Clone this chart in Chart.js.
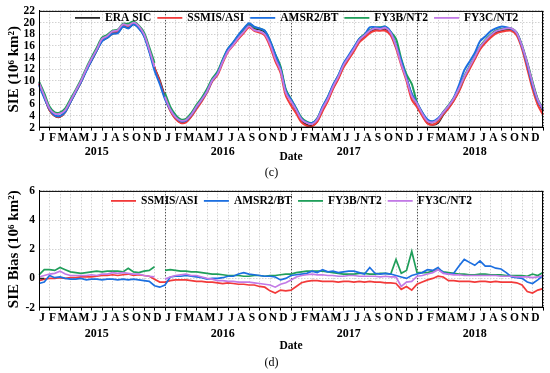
<!DOCTYPE html>
<html>
<head>
<meta charset="utf-8">
<script src="https://cdn.jsdelivr.net/npm/chart.js@4.4.1/dist/chart.umd.min.js"></script>
<style>
  body { margin: 0; background: #fff; }
  canvas { display: block; }
</style>
</head>
<body>
<canvas id="sie" width="550" height="180"></canvas>
<canvas id="bias" width="550" height="193"></canvas>
<script>
// semi-monthly samples (1st and 16th of each month), 2015-01-01 .. 2018-12-31
const years = ['2015', '2016', '2017', '2018'];
const monthLetters = ['J', 'F', 'M', 'A', 'M', 'J', 'J', 'A', 'S', 'O', 'N', 'D'];

const eraSie = [
  9.6, 7.3, 5.0, 4.0, 3.85, 4.7, 6.4, 8.1, 9.8, 11.8, 13.5, 15.2, 16.9, 17.4, 18.1, 18.3, 19.3, 19.1, 19.7, 19.1, 17.8, 15.2, 12.3, 10.1,
  7.3, 5.0, 3.6, 2.9, 3.0, 4.0, 5.4, 6.7, 8.2, 10.1, 11.3, 13.4, 15.3, 16.4, 17.6, 18.6, 19.6, 19.0, 18.8, 18.4, 16.7, 14.4, 12.2, 8.3,
  6.6, 4.9, 3.2, 2.5, 2.3, 3.1, 5.0, 6.7, 8.8, 10.5, 12.5, 13.9, 15.3, 16.8, 17.6, 18.4, 18.8, 18.8, 18.9, 18.1, 15.9, 13.4, 10.5, 7.6,
  5.9, 4.2, 2.8, 2.5, 2.8, 4.2, 5.4, 6.7, 8.4, 10.5, 12.2, 13.9, 15.6, 16.7, 17.6, 18.3, 18.6, 18.8, 18.8, 18.1, 15.9, 13.0, 9.6, 6.7, 4.9
];
const ssmisSie = [
  9.5, 7.3, 5.0, 4.0, 3.9, 4.7, 6.5, 8.2, 9.9, 11.9, 13.6, 15.4, 17.1, 17.6, 18.4, 18.5, 19.6, 19.4, 19.9, 19.4, 18.0, 15.4, 12.3, 9.9,
  7.1, 4.9, 3.5, 2.8, 2.9, 3.9, 5.2, 6.5, 8.0, 9.9, 11.0, 13.1, 15.0, 16.1, 17.2, 18.2, 19.2, 18.6, 18.3, 17.8, 15.9, 13.4, 11.4, 7.5,
  5.8, 4.4, 2.9, 2.3, 2.2, 3.0, 4.8, 6.5, 8.6, 10.3, 12.3, 13.7, 15.1, 16.6, 17.4, 18.2, 18.6, 18.6, 18.6, 17.8, 15.6, 12.7, 10.0, 6.8,
  5.5, 4.0, 2.7, 2.5, 3.0, 4.3, 5.3, 6.6, 8.2, 10.3, 12.0, 13.7, 15.4, 16.5, 17.4, 18.1, 18.4, 18.6, 18.6, 17.8, 15.5, 12.1, 8.6, 5.9, 4.2
];
const amsrSie = [
  9.3, 7.1, 5.2, 4.1, 4.0, 4.7, 6.4, 8.1, 9.8, 11.7, 13.5, 15.2, 16.8, 17.4, 18.1, 18.2, 19.3, 19.0, 19.7, 19.0, 17.7, 15.0, 11.8, 9.5,
  6.9, 5.1, 3.8, 3.1, 3.2, 4.2, 5.5, 6.8, 8.2, 10.1, 11.3, 13.5, 15.5, 16.6, 17.9, 19.0, 19.9, 19.3, 19.0, 18.6, 16.9, 14.5, 12.1, 8.3,
  6.8, 5.2, 3.5, 2.9, 2.8, 3.5, 5.6, 7.2, 9.3, 10.9, 13.0, 14.4, 15.8, 17.2, 17.9, 19.2, 19.2, 19.1, 19.3, 18.4, 16.1, 13.5, 10.5, 7.8,
  6.2, 4.6, 3.4, 3.1, 3.6, 4.6, 5.7, 7.1, 9.3, 11.8, 13.3, 14.8, 16.8, 17.6, 18.5, 19.0, 19.3, 19.2, 18.9, 18.2, 15.9, 12.8, 9.3, 6.6, 5.1
];
const fy3bSie = [
  9.9, 7.9, 5.6, 4.6, 4.6, 5.3, 6.9, 8.5, 10.2, 12.2, 14.0, 15.7, 17.4, 17.9, 18.6, 18.8, 19.8, 19.8, 20.2, 19.5, 18.3, 15.8, 13.1, null,
  7.9, 5.6, 4.2, 3.4, 3.5, 4.5, 5.9, 7.1, 8.6, 10.4, 11.6, 13.7, 15.5, 16.6, 17.8, 18.8, 19.8, 19.2, 19.0, 18.6, 16.9, 14.6, 12.5, 8.6,
  6.9, 5.3, 3.7, 3.0, 2.8, 3.6, 5.5, 7.2, 9.2, 10.9, 12.8, 14.2, 15.6, 17.2, 18.0, 18.7, 19.1, 19.2, 19.3, 18.4, 17.2, 13.8, 11.1, 9.5,
  6.3, 4.6, 3.2, 3.0, 3.4, 4.7, 5.8, 7.1, 8.7, 10.8, 12.5, 14.2, 15.9, 17.0, 17.9, 18.6, 18.9, 19.0, 19.0, 18.3, 16.1, 13.2, 9.9, 6.9, 5.3
];
const fy3cSie = [
  9.7, 7.5, 5.3, 4.4, 4.4, 5.0, 6.6, 8.3, 10.0, 12.0, 13.8, 15.4, 17.2, 17.7, 18.5, 18.7, 19.7, 19.5, 20.0, 19.4, 18.0, 15.4, 12.4, null,
  7.3, 5.1, 3.8, 3.2, 3.3, 4.2, 5.6, 6.8, 8.2, 10.1, 11.2, 13.3, 15.1, 16.2, 17.4, 18.4, 19.4, 18.7, 18.5, 18.0, 16.3, 13.8, 11.8, 8.0,
  6.5, 5.0, 3.4, 2.8, 2.6, 3.4, 5.3, 6.9, 9.0, 10.7, 12.7, 14.1, 15.5, 17.0, 17.8, 18.6, 19.0, 18.9, 19.1, 18.2, 16.0, 12.9, 10.3, 7.4,
  6.1, 4.4, 3.1, 2.9, 3.4, 4.6, 5.7, 7.0, 8.7, 10.7, 12.4, 14.1, 15.8, 16.9, 17.8, 18.5, 18.8, 19.0, 19.0, 18.2, 16.0, 13.1, 9.7, 6.8, 5.1
];

// bias relative to ERA SIC
const eraBias = [0, 0];
const ssmisBias = [
  -0.15, -0.05, 0.0, 0.0, 0.05, 0.0, 0.05, 0.05, 0.1, 0.1, 0.1, 0.15, 0.2, 0.2, 0.25, 0.2, 0.25, 0.3, 0.2, 0.25, 0.2, 0.15, -0.05, -0.25,
  -0.25, -0.15, -0.1, -0.1, -0.1, -0.15, -0.2, -0.2, -0.25, -0.25, -0.3, -0.35, -0.3, -0.35, -0.4, -0.4, -0.45, -0.45, -0.55, -0.6, -0.85, -1.0, -0.8, -0.85,
  -0.8, -0.55, -0.3, -0.2, -0.15, -0.15, -0.2, -0.2, -0.2, -0.25, -0.2, -0.2, -0.25, -0.2, -0.25, -0.2, -0.25, -0.25, -0.3, -0.3, -0.35, -0.75, -0.55, -0.8,
  -0.4, -0.25, -0.1, 0.0, 0.15, 0.1, -0.15, -0.15, -0.2, -0.2, -0.2, -0.25, -0.2, -0.2, -0.25, -0.2, -0.25, -0.25, -0.25, -0.3, -0.45, -0.9, -1.0, -0.8, -0.7
];
const amsrBias = [
  -0.35, -0.25, 0.2, 0.05, 0.1, 0.0, -0.05, -0.05, 0.0, -0.1, -0.05, -0.05, -0.1, -0.05, -0.05, -0.1, -0.05, -0.1, -0.05, -0.1, -0.15, -0.2, -0.5, -0.6,
  -0.45, 0.1, 0.15, 0.15, 0.2, 0.15, 0.1, 0.05, -0.05, 0.0, 0.0, 0.05, 0.15, 0.15, 0.3, 0.4, 0.3, 0.25, 0.2, 0.15, 0.15, 0.1, -0.1, 0.0,
  0.2, 0.25, 0.3, 0.35, 0.5, 0.4, 0.6, 0.45, 0.5, 0.4, 0.45, 0.5, 0.5, 0.4, 0.3, 0.75, 0.35, 0.3, 0.35, 0.3, 0.2, 0.1, 0.0, 0.2,
  0.3, 0.4, 0.6, 0.55, 0.75, 0.4, 0.3, 0.35, 0.85, 1.3, 1.1, 0.9, 1.2, 0.85, 0.85, 0.7, 0.65, 0.4, 0.1, 0.05, 0.0, -0.25, -0.35, -0.1, 0.2
];
const fy3bBias = [
  0.25, 0.6, 0.6, 0.55, 0.75, 0.6, 0.45, 0.4, 0.35, 0.4, 0.45, 0.5, 0.45, 0.5, 0.5, 0.5, 0.45, 0.7, 0.45, 0.4, 0.5, 0.55, 0.8, null,
  0.55, 0.6, 0.55, 0.5, 0.5, 0.45, 0.45, 0.4, 0.35, 0.3, 0.3, 0.25, 0.2, 0.2, 0.2, 0.15, 0.15, 0.2, 0.2, 0.15, 0.2, 0.2, 0.25, 0.3,
  0.3, 0.4, 0.45, 0.5, 0.5, 0.5, 0.5, 0.45, 0.4, 0.35, 0.3, 0.3, 0.3, 0.35, 0.35, 0.3, 0.3, 0.35, 0.35, 0.3, 1.3, 0.35, 0.55, 1.85,
  0.4, 0.4, 0.4, 0.5, 0.6, 0.45, 0.4, 0.35, 0.3, 0.3, 0.25, 0.25, 0.3, 0.3, 0.25, 0.25, 0.25, 0.2, 0.2, 0.2, 0.2, 0.15, 0.3, 0.2, 0.4
];
const fy3cBias = [
  0.1, 0.2, 0.3, 0.35, 0.5, 0.3, 0.2, 0.2, 0.2, 0.2, 0.25, 0.2, 0.3, 0.3, 0.4, 0.35, 0.4, 0.35, 0.3, 0.3, 0.2, 0.15, 0.1, null,
  -0.05, 0.1, 0.2, 0.25, 0.3, 0.2, 0.2, 0.1, 0.0, -0.05, -0.15, -0.15, -0.2, -0.2, -0.25, -0.25, -0.25, -0.3, -0.35, -0.4, -0.45, -0.6, -0.4, -0.3,
  -0.1, 0.1, 0.2, 0.25, 0.3, 0.25, 0.25, 0.2, 0.2, 0.15, 0.15, 0.2, 0.2, 0.15, 0.15, 0.15, 0.15, 0.1, 0.15, 0.1, 0.1, -0.55, -0.25, -0.2,
  0.15, 0.2, 0.3, 0.4, 0.6, 0.35, 0.3, 0.25, 0.25, 0.2, 0.2, 0.2, 0.2, 0.2, 0.2, 0.2, 0.15, 0.15, 0.15, 0.1, 0.1, 0.1, 0.05, 0.1, 0.2
];

const dateLabels = [];
years.forEach(() => monthLetters.forEach(m => dateLabels.push(m, '')));
dateLabels.push('');
const lastIdx = dateLabels.length - 1;

const FONT = '"Liberation Serif", "Times New Roman", serif';
const COLORS = {
  era: '#262626',
  ssmis: '#f23a3a',
  amsr: '#1c6fe0',
  fy3b: '#1f9e5a',
  fy3c: '#c27ae6'
};

function line(label, data, color, order, width) {
  return {
    label: label,
    data: data,
    borderColor: color,
    backgroundColor: color,
    borderWidth: width,
    pointRadius: 0,
    spanGaps: false,
    order: order
  };
}

// frame, year labels and the in-plot one-row legend
const panelDecor = {
  id: 'panelDecor',
  afterDatasetsDraw(chart, args, opts) {
    const { ctx, chartArea: a } = chart;
    ctx.save();
    ctx.font = 'bold 11.5px ' + FONT;
    ctx.textBaseline = 'middle';
    ctx.textAlign = 'left';
    let x = opts.legendX;
    const y = a.top + opts.legendDy;
    chart.data.datasets.forEach(ds => {
      if (opts.skipLegend.includes(ds.label)) return;
      ctx.strokeStyle = ds.borderColor;
      ctx.lineWidth = 1.8;
      ctx.beginPath();
      ctx.moveTo(x, y);
      ctx.lineTo(x + 25, y);
      ctx.stroke();
      ctx.fillStyle = '#000';
      ctx.fillText(ds.label, x + 30, y + 0.5);
      x += 30 + ctx.measureText(ds.label).width + opts.legendGap;
    });
    ctx.restore();
  },
  afterDraw(chart, args, opts) {
    const { ctx, chartArea: a, scales: { x } } = chart;
    ctx.save();
    ctx.strokeStyle = '#000';
    ctx.lineWidth = 1;
    ctx.setLineDash([]);
    ctx.strokeRect(a.left + 0.5, a.top + 0.5, a.right - a.left - 1, a.bottom - a.top - 1);
    ctx.font = 'bold 12px ' + FONT;
    ctx.fillStyle = '#000';
    ctx.textAlign = 'center';
    ctx.textBaseline = 'middle';
    years.forEach((y, k) => ctx.fillText(y, x.getPixelForValue(k * 24 + 11), a.bottom + opts.yearGap));
    ctx.restore();
  }
};

function makeOptions(cfg) {
  return {
    responsive: false,
    animation: false,
    devicePixelRatio: 1,
    layout: { padding: { top: cfg.top, right: 7, left: 0, bottom: 0 } },
    elements: { line: { tension: cfg.tension } },
    plugins: {
      legend: { display: false },
      title: {
        display: true,
        position: 'bottom',
        text: cfg.tag,
        color: '#000',
        font: { family: FONT, size: 12, weight: 'normal' },
        padding: cfg.tagPadding
      },
      tooltip: { enabled: false },
      panelDecor: {
        yearGap: cfg.yearGap,
        legendX: cfg.legendX,
        legendDy: cfg.legendDy,
        legendGap: cfg.legendGap,
        skipLegend: cfg.skipLegend || []
      }
    },
    scales: {
      x: {
        type: 'category',
        afterFit: s => { s.height = cfg.xHeight; },
        ticks: {
          autoSkip: false,
          maxRotation: 0,
          labelOffset: 3,
          padding: 1,
          color: '#000',
          font: { family: FONT, size: 11.5, weight: 'bold' }
        },
        grid: {
          color: c => (c.index % 24 === 0 ? '#555' : (c.index % 2 === 0 ? '#d2d2d2' : 'rgba(0,0,0,0)')),
          tickColor: c => (c.index % 2 === 0 ? '#000' : 'rgba(0,0,0,0)'),
          tickLength: 3,
          lineWidth: 1
        },
        border: { color: '#000', dash: [1.5, 1.5] },
        title: {
          display: true,
          text: 'Date',
          color: '#000',
          font: { family: FONT, size: 11.5, weight: 'bold' },
          padding: { top: 0, bottom: cfg.datePad }
        }
      },
      y: {
        min: cfg.yMin,
        max: cfg.yMax,
        afterFit: s => { s.width = 39; },
        ticks: {
          stepSize: 2,
          autoSkip: false,
          padding: 4,
          color: '#000',
          font: { family: FONT, size: 11.5, weight: 'bold' }
        },
        grid: { color: '#d2d2d2', drawTicks: false },
        border: { color: '#000', dash: [1.5, 1.5] },
        title: {
          display: true,
          text: cfg.yTitle,
          color: '#000',
          font: { family: FONT, size: cfg.yTitleSize, weight: 'bold' },
          padding: { top: 5, bottom: 0 }
        }
      }
    }
  };
}

new Chart(document.getElementById('sie'), {
  type: 'line',
  data: {
    labels: dateLabels,
    datasets: [
      line('ERA SIC', eraSie, COLORS.era, 4, 2),
      line('SSMIS/ASI', ssmisSie, COLORS.ssmis, 3, 2),
      line('AMSR2/BT', amsrSie, COLORS.amsr, 1, 2),
      line('FY3B/NT2', fy3bSie, COLORS.fy3b, 2, 2),
      line('FY3C/NT2', fy3cSie, COLORS.fy3c, 0, 1.8)
    ]
  },
  options: makeOptions({
    top: 10, tension: 0.3, yMin: 2, yMax: 22,
    yTitle: 'SIE (10⁶ km²)', yTitleSize: 15,
    tag: '(c)', tagPadding: { top: 2, bottom: 0 },
    xHeight: 36, datePad: 0, yearGap: 24,
    legendX: 75, legendDy: 7, legendGap: 6
  }),
  plugins: [panelDecor]
});

new Chart(document.getElementById('bias'), {
  type: 'line',
  data: {
    labels: dateLabels,
    datasets: [
      line('ERA SIC', [{ x: 0, y: eraBias[0] }, { x: lastIdx, y: eraBias[1] }], COLORS.era, 0, 1.6),
      line('SSMIS/ASI', ssmisBias, COLORS.ssmis, 4, 1.7),
      line('AMSR2/BT', amsrBias, COLORS.amsr, 2, 1.7),
      line('FY3B/NT2', fy3bBias, COLORS.fy3b, 3, 1.7),
      line('FY3C/NT2', fy3cBias, COLORS.fy3c, 1, 1.7)
    ]
  },
  options: makeOptions({
    top: 8, tension: 0, yMin: -2, yMax: 6,
    yTitle: 'SIE Bias (10⁶ km²)', yTitleSize: 15,
    tag: '(d)', tagPadding: { top: 0, bottom: 3 },
    xHeight: 48, datePad: 3, yearGap: 26,
    legendX: 111, legendDy: 10, legendGap: 6,
    skipLegend: ['ERA SIC']
  }),
  plugins: [panelDecor]
});
</script>
</body>
</html>
